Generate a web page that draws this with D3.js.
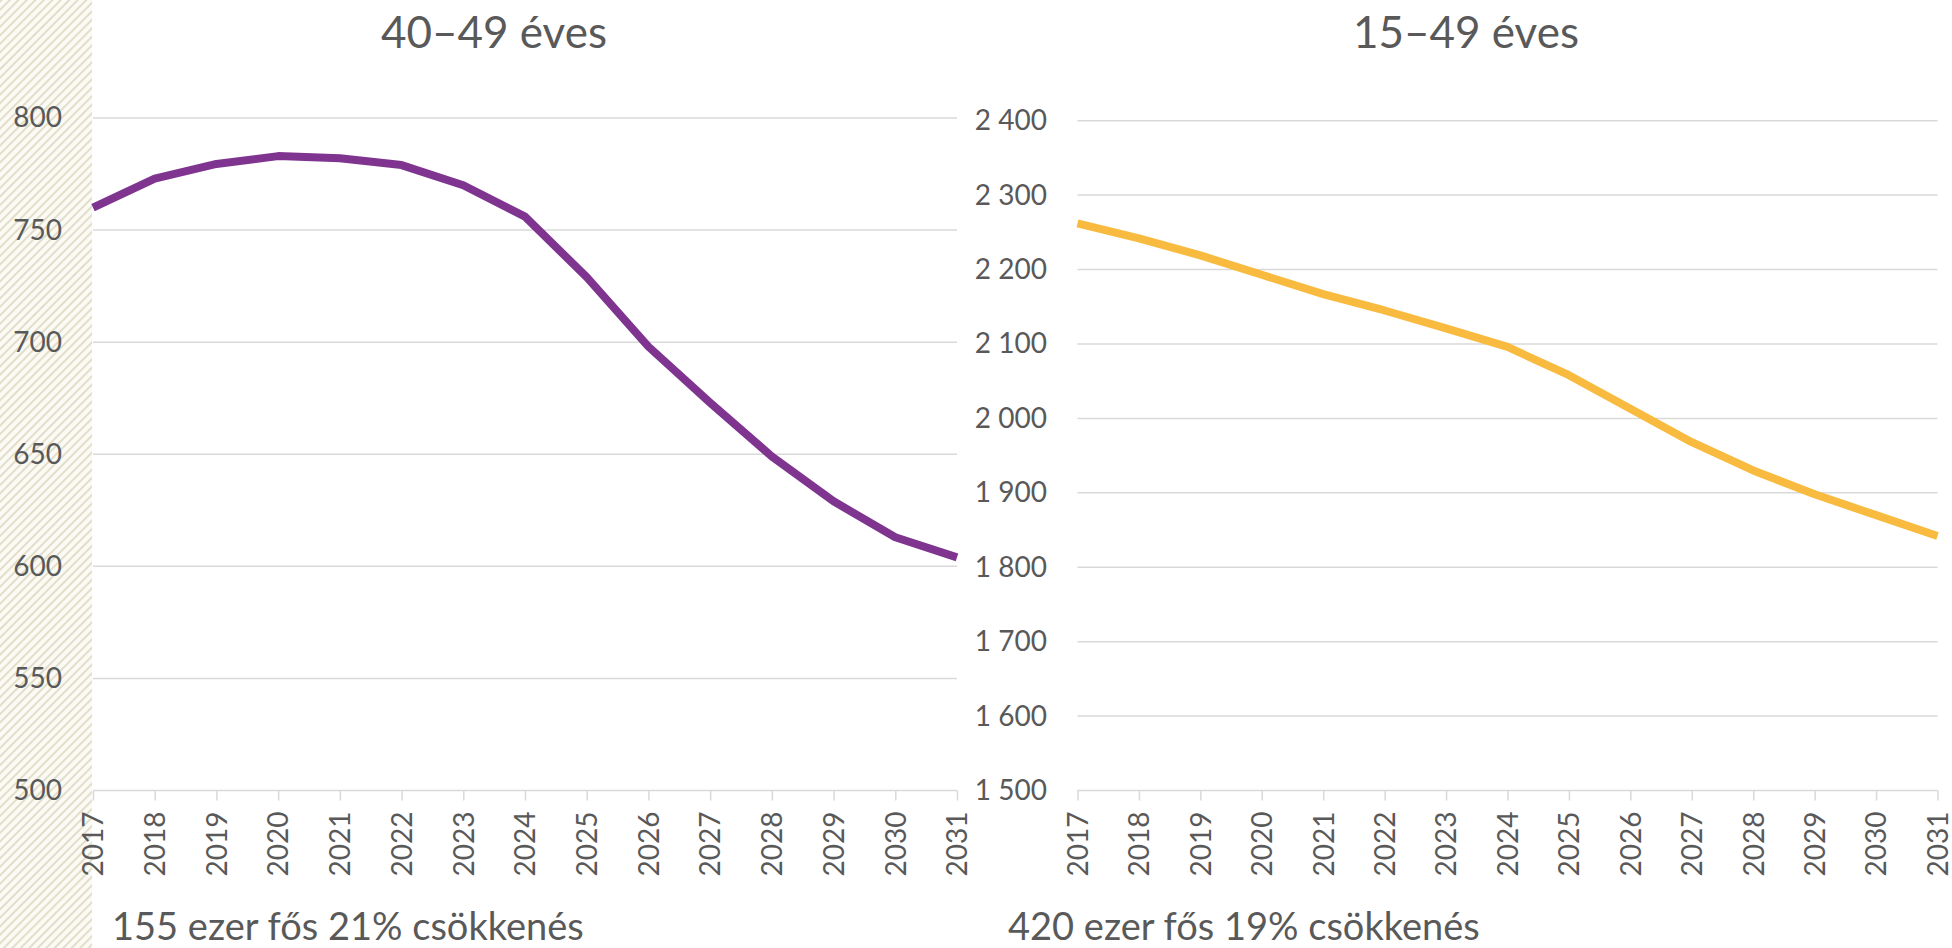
<!DOCTYPE html>
<html>
<head>
<meta charset="utf-8">
<script src="https://cdn.jsdelivr.net/npm/d3@7"></script>
<style>
  html, body { margin: 0; padding: 0; background: #ffffff; }
  svg { display: block; }
  text { font-family: Lato, "Noto Sans", sans-serif; fill: #595959; }
</style>
</head>
<body>
<svg id="chart" width="1952" height="948"></svg>
<script>
// ---- data ----
const years = [2017, 2018, 2019, 2020, 2021, 2022, 2023, 2024, 2025, 2026, 2027, 2028, 2029, 2030, 2031];
const values4049 = [760, 773, 779.5, 783, 782, 779, 770, 756, 729, 698, 673, 649, 629, 613, 604];
const values1549 = [2262, 2242, 2219, 2193, 2167, 2145, 2121, 2096, 2058, 2013, 1968, 1930, 1898, 1870, 1842];
const ticks4049 = [500, 550, 600, 650, 700, 750, 800];
const ticks1549 = [1500, 1600, 1700, 1800, 1900, 2000, 2100, 2200, 2300, 2400];
const titles = ["40–49 éves", "15–49 éves"];
const notes = ["155 ezer fős 21% csökkenés", "420 ezer fős 19% csökkenés"];
const colors = ["#7f3590", "#f8bb40"];

const svg = d3.select("#chart");
const gridColor = "#d9d9d9";
const loc = d3.formatLocale({decimal: ",", thousands: " ", grouping: [3], currency: ["", ""]});
const fmt = loc.format(",d");

// hatched band on the left
const defs = svg.append("defs");
const pat = defs.append("pattern")
  .attr("id", "hatch").attr("patternUnits", "userSpaceOnUse")
  .attr("width", 6).attr("height", 6)
  .attr("patternTransform", "rotate(45)");
pat.append("rect").attr("width", 6).attr("height", 6).attr("fill", "#fbfaf5");
pat.append("rect").attr("x", 0).attr("y", 0).attr("width", 2).attr("height", 6).attr("fill", "#e3dec9");
svg.append("rect").attr("x", 0).attr("y", 0).attr("width", 92).attr("height", 948).attr("fill", "url(#hatch)");

const panels = [
  {x0: 93, x1: 957, yTop: 118, yBot: 790.5, domain: [500, 800], ticks: ticks4049, values: values4049,
   labelEnd: 62, titleX: 494, noteX: 112, format: d3.format("d")},
  {x0: 1077.5, x1: 1937.5, yTop: 120.7, yBot: 790.5, domain: [1500, 2400], ticks: ticks1549, values: values1549,
   labelEnd: 1047, titleX: 1466, noteX: 1008, format: fmt}
];

panels.forEach((p, i) => {
  const x = d3.scaleLinear().domain([years[0], years[years.length - 1]]).range([p.x0, p.x1]);
  const y = d3.scaleLinear().domain(p.domain).range([p.yBot, p.yTop]);
  const g = svg.append("g");

  // gridlines
  g.append("g").selectAll("line").data(p.ticks.filter(t => t !== p.domain[0])).join("line")
    .attr("x1", p.x0).attr("x2", p.x1)
    .attr("y1", d => y(d)).attr("y2", d => y(d))
    .attr("stroke", gridColor).attr("stroke-width", 1.5);

  // y axis labels
  const ya = g.append("g").attr("transform", `translate(${p.x0},0)`)
    .call(d3.axisLeft(y).tickValues(p.ticks).tickSize(0).tickPadding(p.x0 - p.labelEnd).tickFormat(p.format));
  ya.select(".domain").remove();
  ya.selectAll("text").attr("font-size", 28).style("font-family", "Lato, 'Noto Sans', sans-serif").attr("fill", "#595959");

  // x axis
  const xa = g.append("g").attr("transform", `translate(0,${p.yBot})`)
    .call(d3.axisBottom(x).tickValues(years).tickSize(10).tickFormat(d3.format("d")));
  xa.select(".domain").attr("stroke", gridColor).attr("stroke-width", 1.5)
    .attr("d", `M${p.x0},0H${p.x1}`);
  xa.selectAll(".tick line").attr("stroke", gridColor).attr("stroke-width", 1.5);
  xa.selectAll("text")
    .attr("font-size", 28).style("font-family", "Lato, 'Noto Sans', sans-serif").attr("fill", "#595959")
    .attr("text-anchor", "end")
    .attr("transform", "rotate(-90)")
    .attr("x", -21).attr("y", 0).attr("dy", "0.35em");

  // line
  const line = d3.line().x((d, j) => x(years[j])).y(d => y(d));
  g.append("path").datum(p.values)
    .attr("d", line).attr("fill", "none")
    .attr("stroke", colors[i]).attr("stroke-width", 8)
    .attr("stroke-linejoin", "round");

  // title
  g.append("text").attr("x", p.titleX).attr("y", 48)
    .attr("text-anchor", "middle").attr("font-size", 44).text(titles[i]);

  // note
  g.append("text").attr("x", p.noteX).attr("y", 940)
    .attr("font-size", 38).text(notes[i]);
});
</script>
</body>
</html>
